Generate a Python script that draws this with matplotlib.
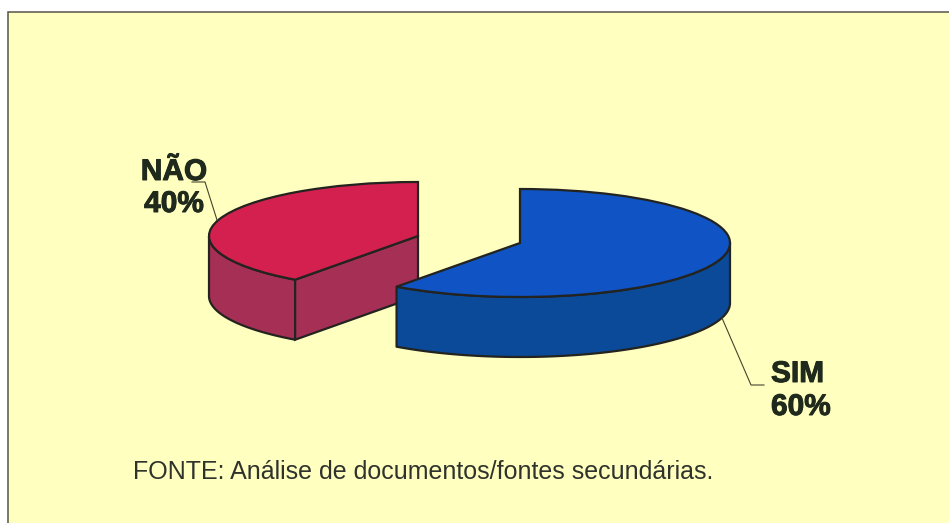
import numpy as np
import matplotlib
matplotlib.use('Agg')
import matplotlib.pyplot as plt
import matplotlib.patheffects as pe
from matplotlib.patches import Polygon, Rectangle

plt.rcParams['font.family'] = ['Liberation Sans', 'DejaVu Sans']

# data
labels = ['SIM', 'NÃO']
shares = [60, 40]
source_text = 'FONTE: Análise de documentos/fontes secundárias.'

W, H = 949, 523
edge = '#23231f'
text_col = '#1f2a1c'
paper = '#ffffc0'
line_w = 1.6


def ellipse_axes(fig, cx, cy, rx, ry):
    # axes whose unit circle lands on the wanted ellipse (pixel coords, y down)
    ax = fig.add_axes([(cx - rx) / W, 1 - (cy + ry) / H, 2 * rx / W, 2 * ry / H])
    ax.patch.set_visible(False)
    return ax


def wedge_3d(ax, values, idx, top_col, side_col, depth, theta_from, cut_face=False):
    # start at 12 o'clock going clockwise; SIM first, NAO goes the other way
    order = [values[idx], sum(values) - values[idx]]
    clockwise = idx == 0
    wedges, _ = ax.pie(order, colors=[top_col, 'none'], startangle=90, counterclock=not clockwise,
                       radius=1, frame=True, wedgeprops={'edgecolor': edge, 'linewidth': line_w, 'zorder': 5})
    wedges[1].set_visible(False)
    ax.set_aspect('auto')
    ax.set_xlim(-1, 1)
    ax.set_ylim(-1, 1)
    ax.axis('off')

    sweep = 360 * values[idx] / sum(values)
    end = 90 - sweep if clockwise else 90 + sweep
    t = np.radians(np.linspace(theta_from, end, 80))
    xs, ys = np.cos(t), np.sin(t)
    outline = np.r_[np.c_[xs, ys], np.c_[xs[::-1], ys[::-1] - depth]]
    ax.add_patch(Polygon(outline, closed=True, facecolor=side_col, edgecolor=edge, lw=line_w,
                         joinstyle='round', clip_on=False, zorder=3))
    if cut_face:
        px, py = np.cos(np.radians(end)), np.sin(np.radians(end))
        ax.add_patch(Polygon([(0, 0), (px, py), (px, py - depth), (0, -depth)], closed=True,
                             facecolor=side_col, edgecolor=edge, lw=line_w, clip_on=False, zorder=3))
    for w in wedges:
        w.set_clip_on(False)


fig = plt.figure(figsize=(W / 100, H / 100), dpi=100, facecolor='white')

bg = fig.add_axes([0, 0, 1, 1])
bg.set_xlim(0, W)
bg.set_ylim(H, 0)
bg.axis('off')
bg.add_patch(Rectangle((8, 12), W + 20, H + 20, facecolor=paper, edgecolor='#55554a', lw=1.1))

# red slice sits behind the blue one
ax_no = ellipse_axes(fig, 418, 236, 209, 54)
wedge_3d(ax_no, shares, 1, '#d3204f', '#a62f56', 60 / 54, 180, cut_face=True)

ax_yes = ellipse_axes(fig, 520, 243, 210, 54)
wedge_3d(ax_yes, shares, 0, '#1053c4', '#0b4a98', 60 / 54, 0)

top = fig.add_axes([0, 0, 1, 1])
top.set_xlim(0, W)
top.set_ylim(H, 0)
top.axis('off')
top.patch.set_visible(False)

# leader lines
top.plot([192, 205, 217], [182, 182, 220], color='#45452f', lw=0.8)
top.plot([722, 751, 764], [318, 385, 385], color='#45452f', lw=0.8)

heavy = [pe.withStroke(linewidth=0.7, foreground=text_col)]
bold = dict(fontsize=21.5, fontweight='bold', color=text_col, va='baseline', path_effects=heavy)
top.text(174, 180, labels[1], ha='center', **bold)
top.text(174, 212, f'{shares[1]}%', ha='center', **bold)
top.text(771, 382, labels[0], ha='left', **bold)
top.text(771, 415, f'{shares[0]}%', ha='left', **bold)
top.text(133, 479, source_text, fontsize=18, color='#2f332c', ha='left', va='baseline')

fig.savefig('out.png', dpi=100)
